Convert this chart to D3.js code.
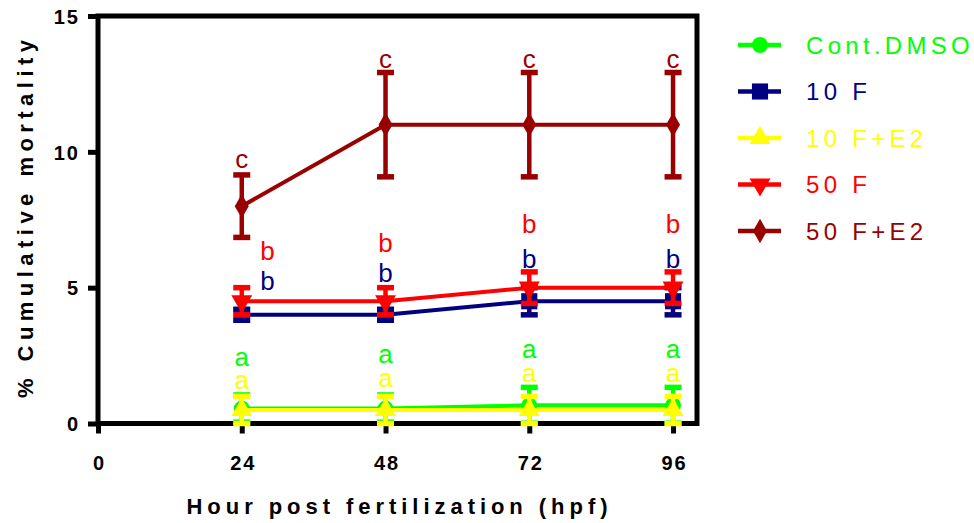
<!DOCTYPE html>
<html>
<head>
<meta charset="utf-8">
<script src="https://cdn.jsdelivr.net/npm/d3@7/dist/d3.min.js"></script>
<style>
  html, body { margin: 0; padding: 0; background: #fff; }
  svg { display: block; }
  text { font-family: Arial, "Liberation Sans", sans-serif; }
</style>
</head>
<body>
<svg id="chart" width="974" height="523"></svg>
<script>
// Sampling times (hours post fertilization)
const hours = [24, 48, 72, 96];

// Groups, their colours and marker shapes
const groups = ["Cont.DMSO", "10 F", "10 F+E2", "50 F", "50 F+E2"];
const colors = ["#00ff00", "#000080", "#ffff00", "#ff0000", "#990000"];
const shapes = ["circle", "square", "triangleUp", "triangleDown", "diamond"];

// Mean cumulative mortality (%) per group at each time point
const meanDMSO  = [0.55, 0.55, 0.67, 0.67];
const mean10F   = [4.0, 4.0, 4.5, 4.5];
const mean10FE2 = [0.5, 0.5, 0.5, 0.5];
const mean50F   = [4.5, 4.5, 5.0, 5.0];
const mean50FE2 = [8.0, 11.0, 11.0, 11.0];

// Standard deviations
const sdDMSO  = [0.5, 0.5, 0.66, 0.66];
const sd10F   = [0.2, 0.2, 0.5, 0.5];
const sd10FE2 = [0.5, 0.5, 0.5, 0.5];
const sd50F   = [0.5, 0.5, 0.58, 0.58];
const sd50FE2 = [1.15, 1.92, 1.92, 1.92];

// Significance letters: [letter, group index, hour, value at baseline]
const sigLetters = [
  ["c", 4, 24, 9.4], ["c", 4, 48, 13.1], ["c", 4, 72, 13.1], ["c", 4, 96, 13.1],
  ["b", 3, 28.3, 6.02], ["b", 3, 48, 6.31], ["b", 3, 72, 7.03], ["b", 3, 96, 7.03],
  ["b", 1, 28.3, 4.91], ["b", 1, 48, 5.21], ["b", 1, 72, 5.74], ["b", 1, 96, 5.74],
  ["a", 0, 24, 2.12], ["a", 0, 48, 2.23], ["a", 0, 72, 2.41], ["a", 0, 96, 2.41],
  ["a", 2, 24, 1.27], ["a", 2, 48, 1.34], ["a", 2, 72, 1.53], ["a", 2, 96, 1.53]
];

// Axis ticks
const xTicks = [0, 24, 48, 72, 96];
const yTicks = [0, 5, 10, 15];

const means = [meanDMSO, mean10F, mean10FE2, mean50F, mean50FE2];
const sds = [sdDMSO, sd10F, sd10FE2, sd50F, sd50FE2];

const svg = d3.select("#chart");

const x = d3.scaleLinear().domain([0, 100]).range([98, 697]);
const y = d3.scaleLinear().domain([0, 15]).range([423.5, 16]);

const AXW = 5;

// Frame and axes
const axes = svg.append("g");
axes.append("rect")
  .attr("x", x(0)).attr("y", y(15))
  .attr("width", x(100) - x(0)).attr("height", y(0) - y(15))
  .attr("fill", "none").attr("stroke", "#000").attr("stroke-width", AXW);

const yAxis = d3.axisLeft(y).tickValues(yTicks).tickSize(10).tickPadding(8)
  .tickFormat(d3.format("d"));
const gy = axes.append("g").attr("transform", `translate(${x(0)},0)`).call(yAxis);
gy.select(".domain").remove();
gy.selectAll("line").attr("stroke", "#000").attr("stroke-width", AXW);
gy.selectAll("text")
  .attr("font-size", 20).attr("font-weight", "bold").attr("fill", "#000")
  .attr("letter-spacing", "2px").attr("dy", "0.36em");

const xAxis = d3.axisBottom(x).tickValues(xTicks).tickSize(10).tickPadding(22)
  .tickFormat(d3.format("d"));
const gx = axes.append("g").attr("transform", `translate(0,${y(0)})`).call(xAxis);
gx.select(".domain").remove();
gx.selectAll("line").attr("stroke", "#000").attr("stroke-width", AXW);
gx.selectAll("text")
  .attr("font-size", 20).attr("font-weight", "bold").attr("fill", "#000")
  .attr("letter-spacing", "2px").attr("dx", "1px");

// Axis titles
svg.append("text")
  .attr("x", 397).attr("y", 514)
  .attr("text-anchor", "middle")
  .attr("font-size", 22).attr("font-weight", "bold")
  .attr("textLength", 421).attr("lengthAdjust", "spacing")
  .text("Hour post fertilization (hpf)");

svg.append("text")
  .attr("transform", "translate(33,219) rotate(-90)")
  .attr("text-anchor", "middle")
  .attr("font-size", 22).attr("font-weight", "bold")
  .attr("textLength", 358).attr("lengthAdjust", "spacing")
  .text("% Cumulative mortality");

// Marker symbols
const symbolFor = {
  circle: d3.symbol().type(d3.symbolCircle).size(200),
  square: d3.symbol().type(d3.symbolSquare).size(260),
  triangleUp: d3.symbol().type(d3.symbolTriangle).size(190),
  triangleDown: d3.symbol().type(d3.symbolTriangle).size(190),
  diamond: d3.symbol().type(d3.symbolDiamond).size(170)
};
function symbolTransform(shape, px, py) {
  return shape === "triangleDown"
    ? `translate(${px},${py}) rotate(180)`
    : `translate(${px},${py})`;
}

const line = d3.line().x(d => x(d.h)).y(d => y(d.m));

// Series: line, error bars, markers
const plot = svg.append("g");
groups.forEach((g, i) => {
  const pts = hours.map((h, j) => ({ h, m: means[i][j], sd: sds[i][j] }));
  const gg = plot.append("g");

  gg.append("path").datum(pts)
    .attr("d", line).attr("fill", "none")
    .attr("stroke", colors[i]).attr("stroke-width", 4);

  const eb = gg.selectAll(".eb").data(pts).enter().append("g");
  eb.append("line")
    .attr("x1", d => x(d.h)).attr("x2", d => x(d.h))
    .attr("y1", d => y(Math.max(0, d.m - d.sd))).attr("y2", d => y(d.m + d.sd))
    .attr("stroke", colors[i]).attr("stroke-width", 4.5);
  [d => d.m + d.sd, d => Math.max(0, d.m - d.sd)].forEach(f => {
    eb.append("line")
      .attr("x1", d => x(d.h) - 8.5).attr("x2", d => x(d.h) + 8.5)
      .attr("y1", d => y(f(d))).attr("y2", d => y(f(d)))
      .attr("stroke", colors[i]).attr("stroke-width", 5.5);
  });

  gg.selectAll(".mk").data(pts).enter().append("path")
    .attr("d", symbolFor[shapes[i]])
    .attr("transform", d => symbolTransform(shapes[i], x(d.h), y(d.m)))
    .attr("fill", colors[i]);
});

// Significance letters
svg.append("g").selectAll("text").data(sigLetters).enter().append("text")
  .attr("x", d => x(d[2])).attr("y", d => y(d[3]))
  .attr("text-anchor", "middle")
  .attr("font-size", 26)
  .attr("fill", d => colors[d[1]])
  .text(d => d[0]);

// Legend
const legend = svg.append("g");
groups.forEach((g, i) => {
  const cy = 45 + i * 46.5;
  const row = legend.append("g");
  row.append("line")
    .attr("x1", 738).attr("x2", 781).attr("y1", cy).attr("y2", cy)
    .attr("stroke", colors[i]).attr("stroke-width", 4.5);
  row.append("path")
    .attr("d", symbolFor[shapes[i]])
    .attr("transform", symbolTransform(shapes[i], 760, cy))
    .attr("fill", colors[i]);
  row.append("text")
    .attr("x", 806).attr("y", cy + 8.5)
    .attr("font-size", 24).attr("letter-spacing", "4.3px")
    .attr("fill", colors[i])
    .text(g);
});
</script>
</body>
</html>
